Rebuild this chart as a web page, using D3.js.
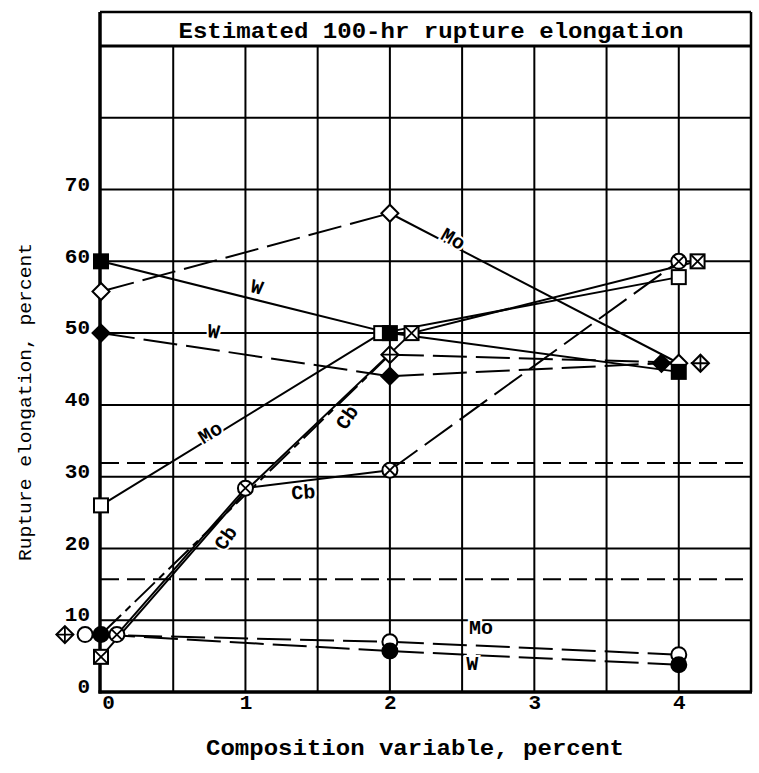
<!DOCTYPE html>
<html><head><meta charset="utf-8">
<script src="https://cdn.jsdelivr.net/npm/d3@7"></script>
<style>body{margin:0;background:#fff} svg{display:block}</style>
</head><body>
<svg id="c" width="759" height="773"></svg>
<script>
// ---------- data ----------
const xTicks = [0, 1, 2, 3, 4];
const yTicks = [0, 10, 20, 30, 40, 50, 60, 70];
const refLevels = [31.9, 15.7];
const titleText = "Estimated 100-hr rupture elongation";
const xTitle = "Composition variable, percent";
const yTitle = "Rupture elongation, percent";

// Mo (open markers)
const moDiamondX = [0, 2, 4],        moDiamondY = [55.8, 66.7, 45.8];
const moSquareX  = [0, 1.94, 4],     moSquareY  = [26, 50, 57.8];
const moCircleX  = [-0.11, 2, 4],    moCircleY  = [8, 7, 5.2];
// W (filled markers)
const wSquareX   = [0, 2, 4],        wSquareY   = [60, 50, 44.6];
const wDiamondX  = [0, 2, 3.88],     wDiamondY  = [50, 44, 45.8];
const wCircleX   = [0, 2, 4],        wCircleY   = [8, 5.7, 3.8];
// Cb (crossed markers)
const cbCircleX  = [0.11, 1, 2, 4],  cbCircleY  = [8, 28.4, 30.9, 60];
const cbSquareX  = [0, 1, 2.15, 4.13], cbSquareY = [4.9, 28, 50, 60];
const cbDiamondX = [0, 2, 4.15],     cbDiamondY = [8, 47, 45.8];
const cbDiamondShift = [-0.25, 0, 0];   // marker drawn beside its point at 0

// curve labels: text, x value, y value, rotation
const curveLabels = [
  ["Mo", 2.44, 63.2, 30], ["W", 1.08, 56.5, 15], ["W", 0.78, 50.3, 8],
  ["Mo", 0.755, 36.2, -32], ["Cb", 1.70, 38.3, -55], ["Cb", 1.40, 27.9, -4],
  ["Cb", 0.86, 21.5, -55], ["Mo", 2.63, 9.1, 0], ["W", 2.57, 4.0, 0]
];

// ---------- build ----------
const series = [
  {x: moDiamondX, y: moDiamondY, m: "diamond", f: "open",   seg: ["d", "s"]},
  {x: moSquareX,  y: moSquareY,  m: "square",  f: "open",   seg: ["s", "s"]},
  {x: moCircleX,  y: moCircleY,  m: "circle",  f: "open",   seg: ["d", "d"]},
  {x: wSquareX,   y: wSquareY,   m: "square",  f: "filled", seg: ["s", "s"]},
  {x: wDiamondX,  y: wDiamondY,  m: "diamond", f: "filled", seg: ["d", "d"]},
  {x: wCircleX,   y: wCircleY,   m: "circle",  f: "filled", seg: ["d", "d"]},
  {x: cbCircleX,  y: cbCircleY,  m: "circle",  f: "cross",  seg: ["s", "s", "d"]},
  {x: cbSquareX,  y: cbSquareY,  m: "square",  f: "cross",  seg: ["s", "s", "s"], hide: [1]},
  {x: cbDiamondX, y: cbDiamondY, m: "diamond", f: "cross",  seg: ["dd", "d"], shift: cbDiamondShift}
];

const FONT = "'Liberation Mono', 'DejaVu Sans Mono', monospace";
const svg = d3.select("#c");
const x = d3.scaleLinear().domain([0, 4.5]).range([101, 751]);
const y = d3.scaleLinear().domain([0, 90]).range([692, 46]);
const yTop = 12;

// grid
const grid = svg.append("g").attr("stroke", "#000").attr("stroke-width", 2);
d3.range(0.5, 4.5, 0.5).forEach(v => {
  grid.append("line").attr("x1", x(v)).attr("x2", x(v)).attr("y1", y(90)).attr("y2", y(0));
});
d3.range(10, 90, 10).forEach(v => {
  grid.append("line").attr("x1", x(0)).attr("x2", x(4.5)).attr("y1", y(v)).attr("y2", y(v));
});
// title band & frame
svg.append("line").attr("x1", x(0)).attr("x2", x(4.5)).attr("y1", y(90)).attr("y2", y(90))
  .attr("stroke", "#000").attr("stroke-width", 3);
svg.append("line").attr("x1", x(0) - 1).attr("x2", x(4.5)).attr("y1", yTop).attr("y2", yTop)
  .attr("stroke", "#000").attr("stroke-width", 2.5);
svg.append("line").attr("x1", x(4.5)).attr("x2", x(4.5)).attr("y1", yTop).attr("y2", y(0))
  .attr("stroke", "#000").attr("stroke-width", 2.5);
svg.append("line").attr("x1", x(0) - 1).attr("x2", x(0) - 1).attr("y1", yTop).attr("y2", y(0) + 1.5)
  .attr("stroke", "#000").attr("stroke-width", 3.5);
svg.append("line").attr("x1", x(0) - 2.5).attr("x2", x(4.5) + 1).attr("y1", y(0)).attr("y2", y(0))
  .attr("stroke", "#000").attr("stroke-width", 3.5);

svg.append("text").attr("x", (x(0) + x(4.5)) / 2 + 5).attr("y", 38)
  .attr("text-anchor", "middle").attr("font-family", FONT).attr("font-weight", "bold")
  .attr("font-size", 22).attr("textLength", 505).attr("lengthAdjust", "spacingAndGlyphs")
  .text(titleText);

// reference dashed lines
refLevels.forEach(v => {
  svg.append("line").attr("x1", x(0)).attr("x2", x(4.5)).attr("y1", y(v)).attr("y2", y(v))
    .attr("stroke", "#000").attr("stroke-width", 2).attr("stroke-dasharray", "18,8");
});

// axes
const gy = svg.append("g").attr("transform", `translate(${x(0)},0)`)
  .call(d3.axisLeft(y).tickValues(yTicks).tickSize(0).tickPadding(11).tickFormat(d3.format("d")));
gy.select(".domain").remove();
gy.selectAll("text").attr("font-family", FONT).attr("font-size", 21).attr("font-weight", "bold")
  .attr("fill", "#000").attr("y", -6);

const gx = svg.append("g").attr("transform", `translate(0,${y(0)})`)
  .call(d3.axisBottom(x).tickValues(xTicks).tickSize(0).tickPadding(2).tickFormat(d3.format("d")));
gx.select(".domain").remove();
gx.selectAll("text").attr("font-family", FONT).attr("font-size", 21).attr("font-weight", "bold")
  .attr("fill", "#000").attr("dx", d => d === 0 ? 7 : 0);

svg.append("text").attr("x", 415).attr("y", 755).attr("text-anchor", "middle")
  .attr("font-family", FONT).attr("font-weight", "bold").attr("font-size", 22)
  .attr("textLength", 418).attr("lengthAdjust", "spacingAndGlyphs").text(xTitle);
svg.append("text").attr("transform", "translate(31,402) rotate(-90)").attr("text-anchor", "middle")
  .attr("font-family", FONT).attr("font-size", 19)
  .attr("textLength", 318).attr("lengthAdjust", "spacingAndGlyphs").text(yTitle);

// series lines
const dashes = {s: null, d: "34,9", dd: "28,6,7,6"};
const lg = svg.append("g").attr("stroke", "#000").attr("stroke-width", 2).attr("fill", "none");
series.forEach(s => {
  for (let i = 0; i < s.x.length - 1; i++) {
    lg.append("line")
      .attr("x1", x(s.x[i])).attr("y1", y(s.y[i]))
      .attr("x2", x(s.x[i + 1])).attr("y2", y(s.y[i + 1]))
      .attr("stroke-dasharray", dashes[s.seg[i]]);
  }
});

// curve labels (with white halo to gap the lines)
curveLabels.forEach(([t, vx, vy, r]) => {
  svg.append("text").attr("transform", `translate(${x(vx)},${y(vy)}) rotate(${r})`)
    .attr("text-anchor", "middle").attr("dy", "0.35em")
    .attr("font-family", FONT).attr("font-weight", "bold").attr("font-size", 20)
    .attr("stroke", "#fff").attr("stroke-width", 4).attr("paint-order", "stroke")
    .attr("fill", "#000").text(t);
});

// markers
const mg = svg.append("g");
function marker(kind, fill, cx, cy) {
  const g = mg.append("g").attr("transform", `translate(${cx},${cy})`);
  const fc = fill === "filled" ? "#000" : "#fff";
  let h;
  if (kind === "square") {
    h = 7;
    g.append("rect").attr("x", -h).attr("y", -h).attr("width", 2 * h).attr("height", 2 * h)
      .attr("fill", fc).attr("stroke", "#000").attr("stroke-width", 2);
  } else if (kind === "diamond") {
    h = 6;
    g.attr("transform", `translate(${cx},${cy}) rotate(45)`);
    g.append("rect").attr("x", -h).attr("y", -h).attr("width", 2 * h).attr("height", 2 * h)
      .attr("fill", fc).attr("stroke", "#000").attr("stroke-width", 2);
  } else {
    h = 7.5;
    g.append("circle").attr("r", h).attr("fill", fc).attr("stroke", "#000").attr("stroke-width", 2);
    h = 5.3;
  }
  if (fill === "cross") {
    g.append("path").attr("d", `M${-h},${-h}L${h},${h}M${-h},${h}L${h},${-h}`)
      .attr("stroke", "#000").attr("stroke-width", 1.8);
  }
}
series.forEach(s => {
  s.x.forEach((vx, i) => {
    if (s.hide && s.hide.includes(i)) return;
    const dx = s.shift ? s.shift[i] : 0;
    marker(s.m, s.f, x(vx + dx), y(s.y[i]));
  });
});
</script>
</body></html>
